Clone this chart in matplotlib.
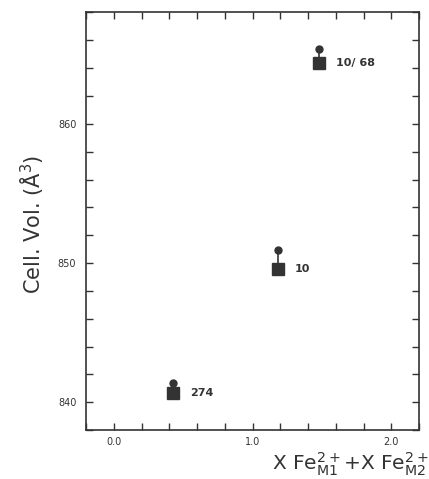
import numpy as np
import matplotlib.pyplot as plt
from matplotlib.ticker import MultipleLocator

# sample labels and values
samples = ["274", "10", "10/ 68"]
x_fe = [0.43, 1.18, 1.48]
vol_circle = [841.4, 850.95, 865.4]
vol_square = [840.65, 849.55, 864.4]

INK = "#333333"

fig = plt.figure(figsize=(4.29, 4.79), dpi=100)
ax = fig.add_axes([0.2005, 0.102, 0.7765, 0.872])

for x, vc, vs, name in zip(x_fe, vol_circle, vol_square, samples):
    ax.plot([x, x], [vs, vc], color=INK, lw=1.2, zorder=2)
    ax.plot(x, vs, marker="s", ms=8, color=INK, mec=INK, zorder=3)
    ax.plot(x, vc, marker="o", ms=5, color=INK, mec=INK, zorder=3)
    ax.annotate(name, (x, vs), xytext=(12, 0), textcoords="offset points",
                va="center", ha="left", fontsize=8, color=INK, fontweight="bold")

ax.set_xlim(-0.2, 2.2)
ax.set_ylim(838, 868)
ax.xaxis.set_major_locator(MultipleLocator(1.0))
ax.xaxis.set_minor_locator(MultipleLocator(0.2))
ax.yaxis.set_major_locator(MultipleLocator(10))
ax.yaxis.set_minor_locator(MultipleLocator(2))
ax.xaxis.set_major_formatter(plt.FormatStrFormatter("%.1f"))

ax.tick_params(which="both", direction="in", top=True, right=True, color=INK,
               labelcolor=INK, labelsize=7)
ax.tick_params(which="major", length=5, width=1)
ax.tick_params(which="minor", length=5, width=1)
ax.tick_params(axis="y", pad=7)
ax.tick_params(axis="x", pad=5)
for s in ax.spines.values():
    s.set_color(INK)
    s.set_linewidth(1.2)

fig.text(0.075, 0.532, "Cell. Vol. (Å$^3$)", rotation=90, ha="center", va="center",
         fontsize=15, color=INK)
fig.text(0.998, 0.03, r"X Fe$_{\rm M1}^{2+}$+X Fe$_{\rm M2}^{2+}$", ha="right", va="center",
         fontsize=14.5, color=INK)

fig.savefig("out.png", dpi=100)
